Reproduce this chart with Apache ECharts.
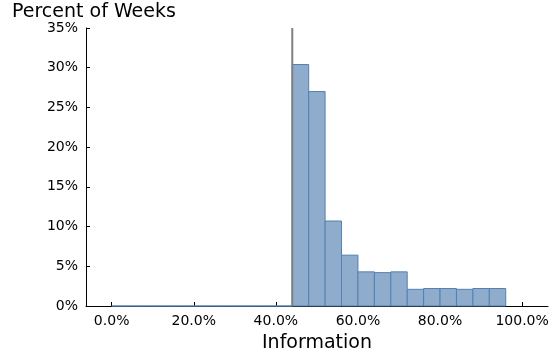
<!DOCTYPE html>
<html><head><meta charset="utf-8">
<script src="https://cdn.jsdelivr.net/npm/echarts@6/dist/echarts.min.js"></script>
<style>html,body{margin:0;padding:0;background:#fff}#c{width:555px;height:358px}</style>
</head><body><div id="c"></div>
<script>
const binWidth = 0.04;
const binStarts = [0,0.04,0.08,0.12,0.16,0.20,0.24,0.28,0.32,0.36,0.40,0.44,0.48,0.52,0.56,0.60,0.64,0.68,0.72,0.76,0.80,0.84,0.88,0.92];
const percents  = [0,0,0,0,0,0,0,0,0,0,0,0.304,0.270,0.107,0.064,0.043,0.042,0.043,0.021,0.022,0.022,0.021,0.022,0.022];
const xTicks = [0,0.2,0.4,0.6,0.8,1.0];
const yTicks = [0,0.05,0.10,0.15,0.20,0.25,0.30,0.35];
const vlineX = 0.44;

const chart = echarts.init(document.getElementById('c'));
const font = 'DejaVu Sans';
chart.setOption({
  animation:false,
  title:{text:'Percent of Weeks',left:12,top:3,padding:0,textStyle:{fontFamily:font,fontSize:19,fontWeight:'normal',color:'#000'}},
  grid:{left:86,right:7,top:28,bottom:50},
  xAxis:{type:'value',min:-0.0625,max:1.063,
    name:'Information',nameLocation:'middle',nameGap:28,
    nameTextStyle:{fontFamily:font,fontSize:19,color:'#000'},
    axisLine:{onZero:false,lineStyle:{color:'#000',width:1}},
    axisTick:{inside:true,length:4,lineStyle:{color:'#000'},customValues:xTicks},
    axisLabel:{fontFamily:font,fontSize:14,color:'#000',margin:8,customValues:xTicks,
      formatter:v=>(v*100).toFixed(1)+'%'},
    splitLine:{show:false}},
  yAxis:{type:'value',min:0,max:0.35,interval:0.05,
    axisLine:{show:true,onZero:false,lineStyle:{color:'#000',width:1}},
    axisTick:{show:true,inside:true,length:4,lineStyle:{color:'#000'}},
    axisLabel:{fontFamily:font,fontSize:14,color:'#000',margin:8,
      formatter:v=>Math.round(v*100)+'%'},
    splitLine:{show:false}},
  series:[
    {type:'custom',
     data:binStarts.map((s,i)=>[s,s+binWidth,percents[i]]),
     encode:{x:[0,1],y:2},
     renderItem:(params,api)=>{
       const p0=api.coord([api.value(0),api.value(2)]);
       const p1=api.coord([api.value(1),0]);
       return {type:'rect',shape:{x:p0[0],y:p0[1],width:p1[0]-p0[0],height:p1[1]-p0[1]},
         style:{fill:'#8FACCC',stroke:'#5580B0',lineWidth:1}};
     }},
    {type:'line',data:[[vlineX,0],[vlineX,0.35]],symbol:'none',
     lineStyle:{color:'#808080',width:2}}
  ]
});
</script></body></html>
